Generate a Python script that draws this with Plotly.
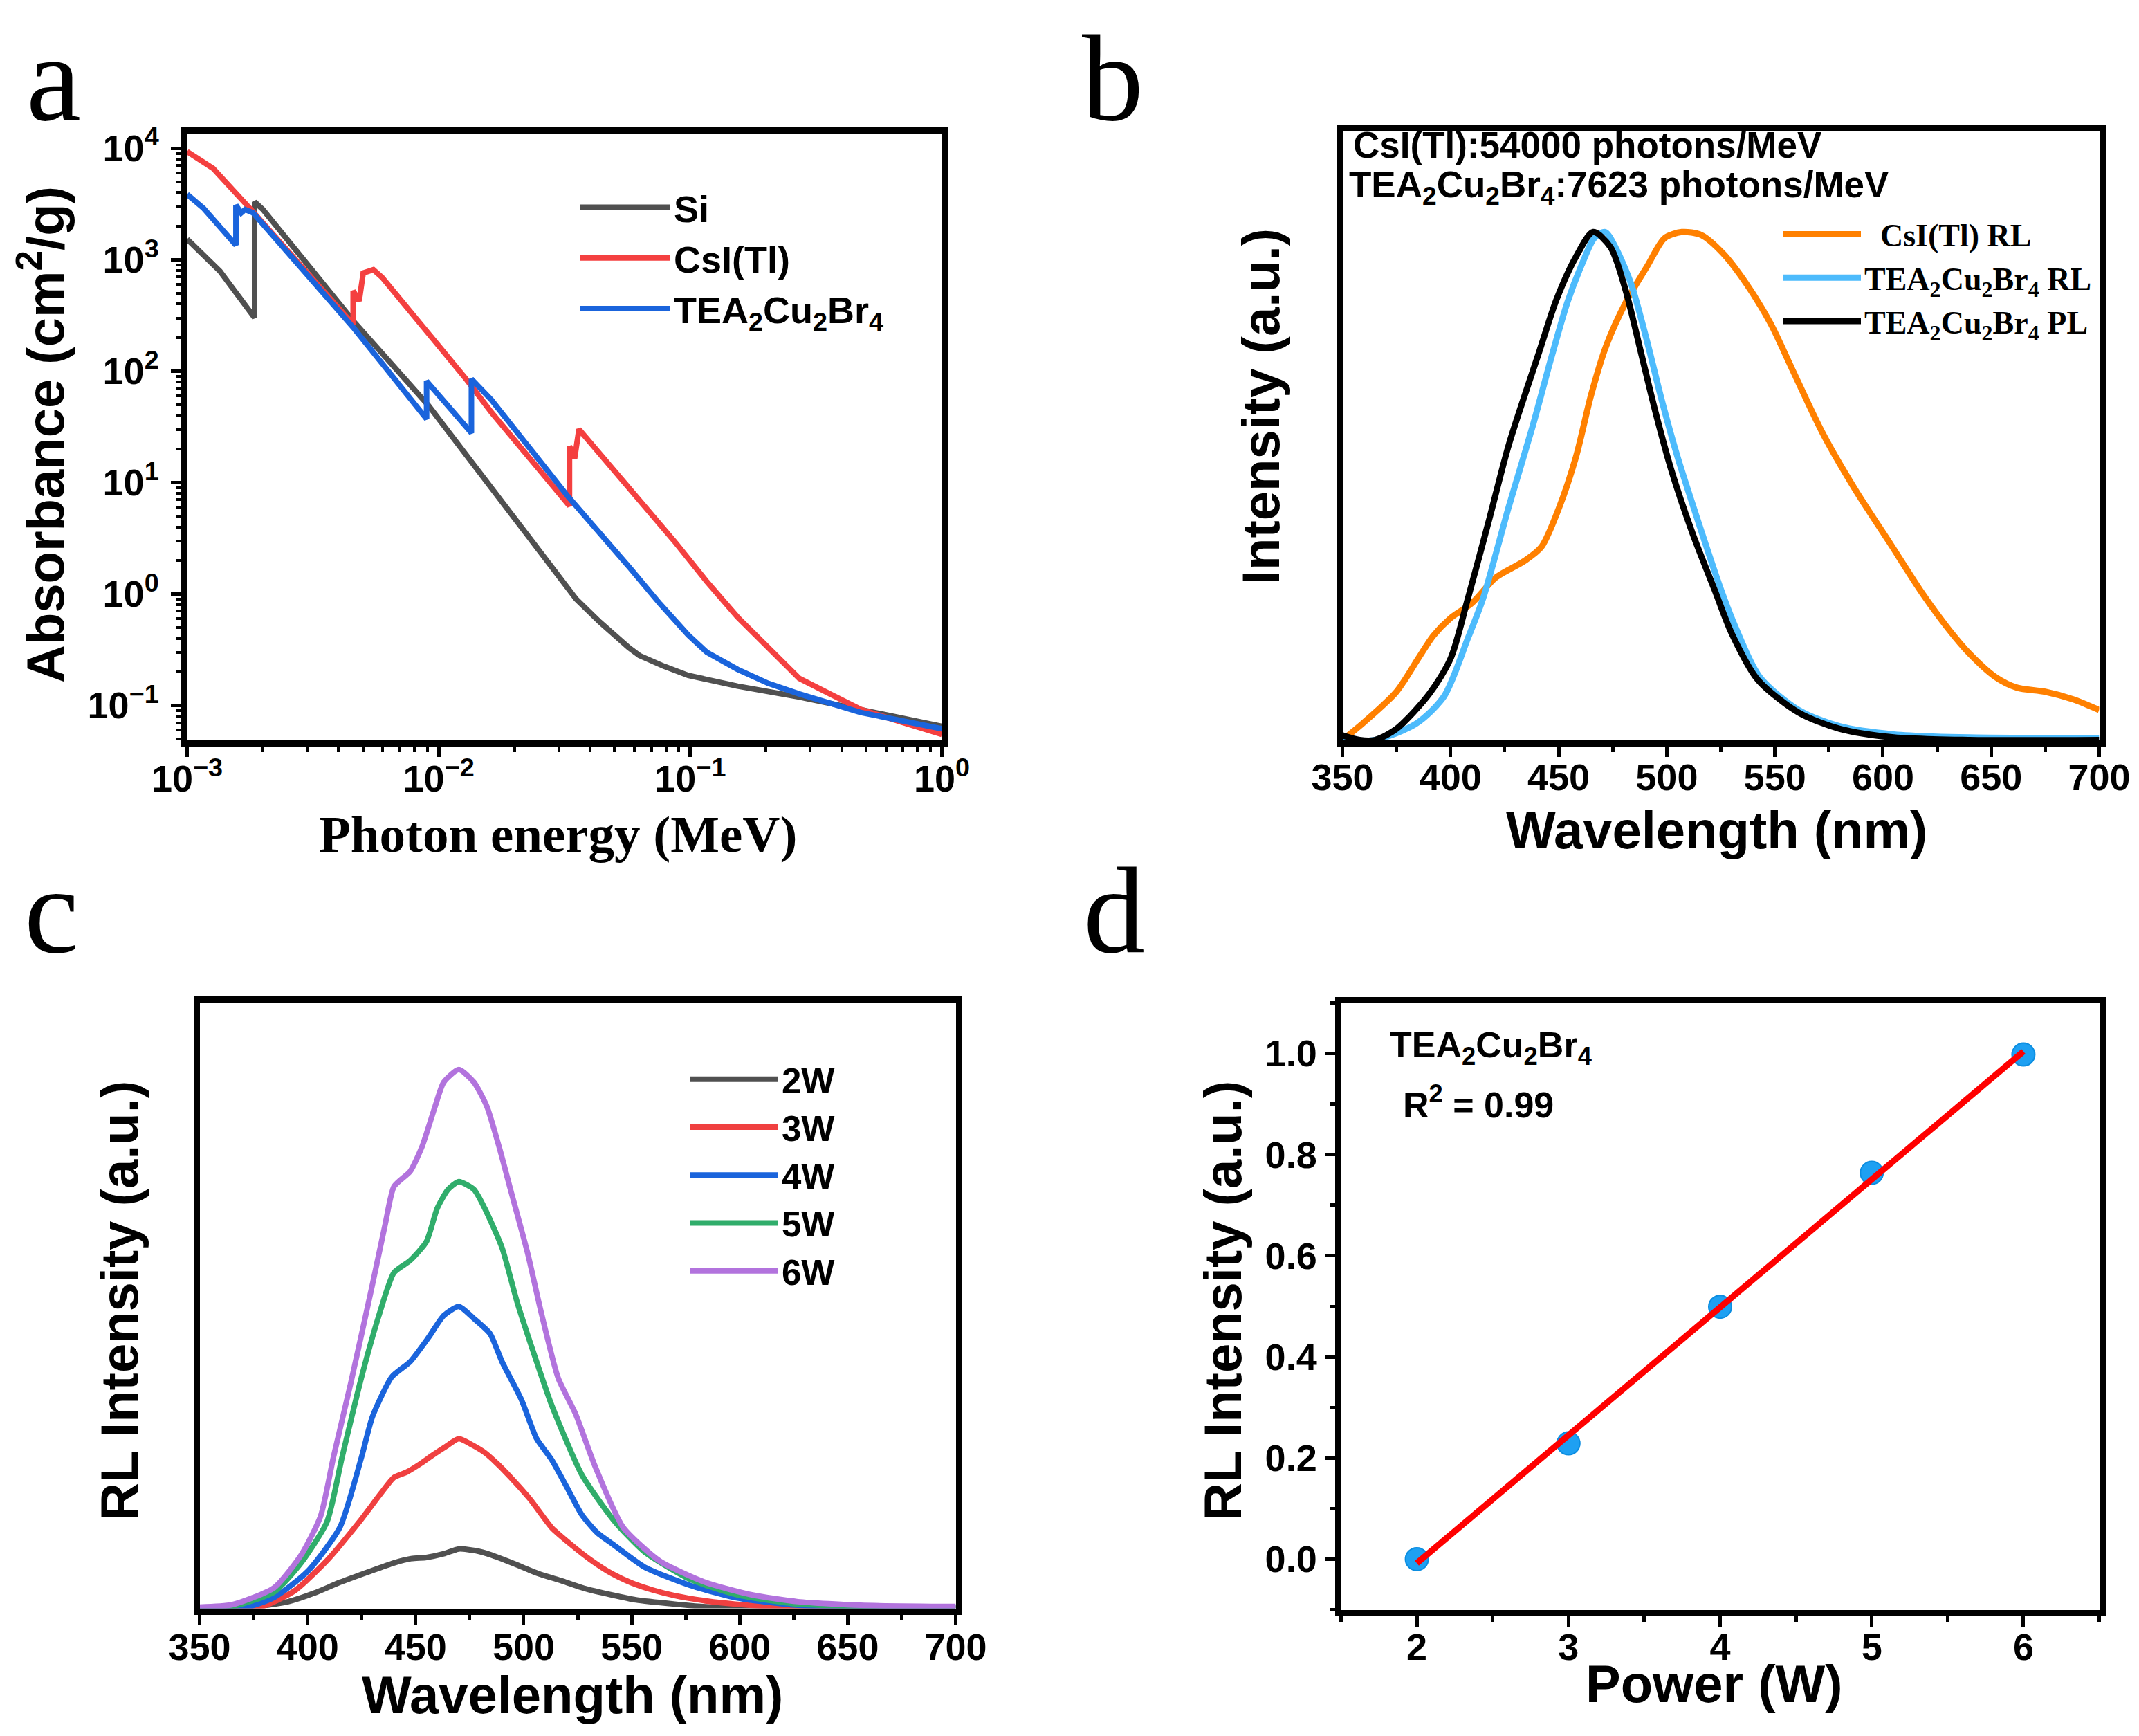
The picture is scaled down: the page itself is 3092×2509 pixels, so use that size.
import numpy as np
import plotly.graph_objects as go

W, H = 3092, 2509
SANS = "Liberation Sans"
SERIF = "Liberation Serif"
TEA = "TEA<sub>2</sub>Cu<sub>2</sub>Br<sub>4</sub>"

# ── panel a: absorbance vs photon energy (MeV) ────────────────────────────────
si_energy = [1.0e-3, 1.35e-3, 1.854e-3, 1.854e-3, 2.0e-3, 4.62e-3, 9.12e-3, 1.62e-2,
             2.84e-2, 3.52e-2, 4.37e-2, 5.0e-2, 5.7e-2, 6.27e-2, 7.05e-2, 7.85e-2,
             9.82e-2, 0.154, 0.271, 0.475, 1.0]
si_abs = [1530, 790, 302, 3300, 2820, 275, 49, 9.0,
          1.72, 0.90, 0.56, 0.425, 0.33, 0.281, 0.25, 0.225,
          0.186, 0.149, 0.119, 0.0925, 0.065]

csi_energy = [1.0e-3, 1.268e-3, 1.828e-3, 4.57e-3, 4.57e-3, 4.83e-3, 5.01e-3, 5.50e-3,
              5.96e-3, 1.274e-2, 1.62e-2, 3.31e-2, 3.31e-2, 3.47e-2, 3.61e-2, 8.77e-2,
              0.1164, 0.154, 0.204, 0.271, 0.359, 0.475, 0.692, 1.0]
csi_abs = [9330, 6600, 2690, 263, 525, 427, 759, 813,
           692, 87, 42.7, 6.17, 21.2, 16.5, 30.1, 2.86,
           1.29, 0.622, 0.331, 0.175, 0.127, 0.0925, 0.0708, 0.055]

tea_energy = [1.0e-3, 1.164e-3, 1.563e-3, 1.563e-3, 1.64e-3, 1.70e-3, 1.828e-3, 4.62e-3,
              8.95e-3, 8.95e-3, 1.349e-2, 1.349e-2, 1.62e-2, 3.28e-2, 5.75e-2, 7.59e-2,
              9.82e-2, 0.1164, 0.154, 0.204, 0.271, 0.475, 1.0]
tea_abs = [3855, 2880, 1350, 3090, 2630, 2820, 2630, 240,
           37.2, 81.3, 27.9, 85.1, 55.2, 7.41, 1.72, 0.813,
           0.427, 0.30, 0.211, 0.158, 0.127, 0.0867, 0.0617]

a_xticks = [1e-3, 1e-2, 1e-1, 1]
a_xticktext = ["10<sup>−3</sup>", "10<sup>−2</sup>", "10<sup>−1</sup>", "10<sup>0</sup>"]
a_yticks = [1e-1, 1, 10, 100, 1000, 10000]
a_yticktext = ["10<sup>−1</sup>", "10<sup>0</sup>", "10<sup>1</sup>", "10<sup>2</sup>",
               "10<sup>3</sup>", "10<sup>4</sup>"]

# ── panel b: normalised emission spectra ──────────────────────────────────────
csi_rl_wl = [350, 360, 375, 385, 392, 400, 410, 421, 434, 442, 450, 458, 465, 472,
             481, 491, 499, 507, 516, 526, 537, 548, 558, 572, 587, 603, 618, 630,
             640, 652, 662, 675, 688, 700]
csi_rl = [0.0, 0.035, 0.095, 0.16, 0.205, 0.24, 0.27, 0.32, 0.352, 0.38, 0.455, 0.557,
          0.679, 0.776, 0.861, 0.933, 0.988, 1.0, 0.994, 0.958, 0.897, 0.82, 0.73,
          0.605, 0.494, 0.389, 0.29, 0.22, 0.17, 0.124, 0.103, 0.095, 0.08, 0.059]

tea_rl_wl = [350, 365, 384, 397, 408, 415, 427, 438, 446.5, 454, 461, 466.5, 471.5,
             476.5, 483.6, 490.7, 497.8, 505, 515, 525, 532, 543, 561, 580, 605, 640, 700]
tea_rl = [0.0, 0.0, 0.032, 0.086, 0.2, 0.278, 0.46, 0.618, 0.751, 0.861, 0.939, 0.988,
          1.0, 0.968, 0.897, 0.788, 0.667, 0.557, 0.424, 0.297, 0.22, 0.124, 0.059,
          0.027, 0.011, 0.005, 0.004]

tea_pl_wl = [350, 358, 365, 375, 390, 400, 408, 418, 427, 441, 449, 458, 466, 474,
             481, 488, 495, 502, 512, 522, 530, 542, 561, 580, 605, 640, 700]
tea_pl = [0.009, 0.0, 0.0, 0.022, 0.09, 0.16, 0.278, 0.436, 0.582, 0.764, 0.867, 0.951,
          1.0, 0.970, 0.885, 0.764, 0.642, 0.533, 0.406, 0.297, 0.21, 0.119, 0.054,
          0.022, 0.005, 0.0, 0.0]

# ── panel c: RL spectra at different X-ray tube powers ────────────────────────
wl_2w = [350, 363, 378, 391, 403, 415, 428, 440, 448, 455, 463, 470, 478, 485, 496,
         507, 518, 528, 541, 552, 570, 583, 600, 630, 700]
rl_2w = [0.0, 0.0, 0.004, 0.011, 0.025, 0.043, 0.06, 0.075, 0.082, 0.084, 0.09, 0.098,
         0.095, 0.088, 0.073, 0.057, 0.045, 0.033, 0.022, 0.014, 0.007, 0.003, 0.001,
         0.0, 0.0]

wl_3w = [350, 378, 394, 409, 424, 434, 440, 446, 452, 458, 464, 470, 476, 482, 488,
         494, 503, 513, 522, 531, 541, 550, 560, 570, 585, 598, 620, 650, 700]
rl_3w = [0.0, 0.002, 0.029, 0.079, 0.143, 0.19, 0.216, 0.225, 0.238, 0.253, 0.267,
         0.28, 0.27, 0.257, 0.238, 0.216, 0.18, 0.133, 0.105, 0.08, 0.057, 0.042, 0.03,
         0.021, 0.012, 0.007, 0.002, 0.0, 0.0]

wl_4w = [350, 370, 384.5, 400, 415, 425, 430, 439, 447.5, 456, 463, 470, 477, 484.5,
         490, 499, 506, 513, 520, 527, 534, 542, 556, 577, 599, 627, 660, 700]
rl_4w = [0.0, 0.0, 0.018, 0.061, 0.134, 0.25, 0.316, 0.382, 0.407, 0.447, 0.483, 0.498,
         0.478, 0.453, 0.407, 0.344, 0.28, 0.245, 0.2, 0.154, 0.125, 0.104, 0.068,
         0.038, 0.017, 0.005, 0.002, 0.001]

wl_5w = [350, 365, 384.5, 397, 409, 416, 425, 433, 440, 447.5, 455, 460, 465, 470, 477,
         482, 490, 497, 506, 513, 527, 542, 556, 577, 599, 627, 660, 700]
rl_5w = [0.0, 0.003, 0.027, 0.075, 0.143, 0.25, 0.382, 0.483, 0.554, 0.574, 0.605, 0.66,
         0.691, 0.704, 0.691, 0.66, 0.595, 0.505, 0.407, 0.335, 0.22, 0.144, 0.093,
         0.048, 0.022, 0.007, 0.003, 0.002]

wl_6w = [350, 365, 384.5, 397, 406, 412, 420, 430, 436, 440, 447.5, 453, 459, 463, 470,
         477, 483, 489, 494, 502, 508, 516, 524, 533, 546, 563, 584, 606, 627, 656, 700]
rl_6w = [0.002, 0.006, 0.034, 0.088, 0.152, 0.25, 0.372, 0.534, 0.635, 0.696, 0.721,
         0.762, 0.828, 0.868, 0.889, 0.868, 0.828, 0.757, 0.69, 0.584, 0.49, 0.38, 0.321,
         0.235, 0.134, 0.078, 0.043, 0.022, 0.011, 0.005, 0.003]

# ── panel d: normalised RL intensity vs power ─────────────────────────────────
power_w = [2, 3, 4, 5, 6]
rl_norm = [0.0, 0.229, 0.499, 0.764, 0.998]
fit_power = [2, 6]
fit_rl = [-0.008, 1.004]


# ── layout helpers ────────────────────────────────────────────────────────────

LW = 9  # frame line width


def dom_x(left, right):
    # left/right are frame-line centres in pixels; plotly draws the line outside
    return [(left + LW / 2) / W, (right - LW / 2) / W]


def dom_y(top, bottom):
    return [1 - (bottom - LW / 2) / H, 1 - (top + LW / 2) / H]


def frame_axis(domain, anchor, **kw):
    ax = dict(
        domain=domain, anchor=anchor,
        showline=True, linewidth=LW, linecolor="black", mirror=True,
        ticks="outside", ticklen=15, tickwidth=5, tickcolor="black",
        showgrid=False, zeroline=False,
        tickfont=dict(family=SANS, size=54, color="black", weight="bold"),
    )
    ax.update(kw)
    return ax


def minor_lin(step):
    return dict(ticks="outside", ticklen=8, tickwidth=5, tickcolor="black",
                dtick=step, showgrid=False)


log_minor = [m * 10.0 ** k for k in range(-4, 5) for m in range(2, 10)]
minor_log = dict(ticks="outside", ticklen=8, tickwidth=4, tickcolor="black",
                 tickmode="array", tickvals=log_minor, showgrid=False)

fig = go.Figure()

# panel a
for name, xs, ys, col in [("Si", si_energy, si_abs, "#505050"),
                          ("CsI(Tl)", csi_energy, csi_abs, "#f44040"),
                          (TEA, tea_energy, tea_abs, "#1a64dc")]:
    fig.add_trace(go.Scatter(x=xs, y=ys, mode="lines", name=name,
                             line=dict(color=col, width=8),
                             xaxis="x", yaxis="y", legend="legend"))

# panel b
for name, xs, ys, col in [("  CsI(Tl) RL", csi_rl_wl, csi_rl, "#ff8000"),
                          (TEA + " RL", tea_rl_wl, tea_rl, "#4dbbfc"),
                          (TEA + " PL", tea_pl_wl, tea_pl, "#000000")]:
    fig.add_trace(go.Scatter(x=xs, y=ys, mode="lines", name=name,
                             line=dict(color=col, width=9, shape="spline", smoothing=0.8),
                             xaxis="x2", yaxis="y2", legend="legend2"))

# panel c
for name, xs, ys, col in [("2W", wl_2w, rl_2w, "#505050"),
                          ("3W", wl_3w, rl_3w, "#f04040"),
                          ("4W", wl_4w, rl_4w, "#1a64dc"),
                          ("5W", wl_5w, rl_5w, "#30ad6b"),
                          ("6W", wl_6w, rl_6w, "#b273dd")]:
    fig.add_trace(go.Scatter(x=xs, y=ys, mode="lines", name=name,
                             line=dict(color=col, width=8, shape="spline", smoothing=0.6),
                             xaxis="x3", yaxis="y3", legend="legend3"))

# panel d
fig.add_trace(go.Scatter(x=power_w, y=rl_norm, mode="markers", showlegend=False,
                         marker=dict(color="#1ea0f2", size=33,
                                     line=dict(color="#0b8de0", width=2)),
                         xaxis="x4", yaxis="y4"))
fig.add_trace(go.Scatter(x=fit_power, y=fit_rl, mode="lines", showlegend=False,
                         line=dict(color="#ff0000", width=9),
                         xaxis="x4", yaxis="y4"))

# ── annotations (panel letters, axis titles, in-plot texts) ───────────────────
ann = []


def note(text, x, y, size, family=SANS, weight="bold", angle=0,
         xanchor="center", yanchor="middle"):
    ann.append(dict(text=text, x=x / W, y=1 - y / H, xref="paper", yref="paper",
                    showarrow=False, textangle=angle, xanchor=xanchor, yanchor=yanchor,
                    font=dict(family=family, size=size, color="black", weight=weight)))


# panel letters: y is the top of the text box
for letter, x, y in [("a", 69, 4), ("b", 1600, 4), ("c", 66, 1207), ("d", 1602, 1207)]:
    note(letter, x, y, 178, family=SERIF, weight="normal", yanchor="top")

note("Photon energy (MeV)", 798, 1197, 75, family=SERIF)
note("Absorbance (cm<sup>2</sup>/g)", 52, 620, 76, angle=-90)
note("Wavelength (nm)", 2473, 1191, 76)
note("Intensity (a.u.)", 1814, 580, 76, angle=-90)
note("Wavelength (nm)", 820, 2441, 76)
note("RL Intensity (a.u.)", 164, 1872, 76, angle=-90)
note("Power (W)", 2470, 2425, 76)
note("RL Intensity (a.u.)", 1759, 1872, 76, angle=-90)

note("CsI(Tl):54000 photons/MeV", 1946, 201, 53, xanchor="left")
note(TEA + ":7623 photons/MeV", 1940, 262, 53, xanchor="left")
note(TEA, 1999, 1506, 52, xanchor="left")
note("R<sup>2</sup> = 0.99", 2018, 1585, 52, xanchor="left")

fig.update_layout(
    width=W, height=H,
    margin=dict(l=0, r=0, t=0, b=0, autoexpand=False),
    paper_bgcolor="white", plot_bgcolor="white",
    annotations=ann,
    xaxis=frame_axis(dom_x(258, 1358), "y", type="log", range=[-3, 0],
                     tickmode="array", tickvals=a_xticks, ticktext=a_xticktext,
                     minor=minor_log, ticklabelstandoff=-14),
    yaxis=frame_axis(dom_y(180, 1066), "x", type="log", range=[-1.31, 4.135],
                     tickmode="array", tickvals=a_yticks, ticktext=a_yticktext,
                     minor=minor_log, ticklabelstandoff=6),
    xaxis2=frame_axis(dom_x(1928, 3031), "y2", range=[350, 700], dtick=50,
                      minor=minor_lin(25), ticklabelstandoff=-16),
    yaxis2=frame_axis(dom_y(176, 1066), "x2", range=[0, 1.2], ticks="",
                      showticklabels=False),
    xaxis3=frame_axis(dom_x(276, 1378), "y3", range=[350, 700], dtick=50,
                      minor=minor_lin(25), ticklabelstandoff=-14),
    yaxis3=frame_axis(dom_y(1436, 2321), "x3", range=[0, 1.0], ticks="",
                      showticklabels=False),
    xaxis4=frame_axis(dom_x(1926, 3031), "y4", range=[1.5, 6.5], dtick=1,
                      minor=minor_lin(0.5), ticklabelstandoff=-16),
    yaxis4=frame_axis(dom_y(1437, 2323), "x4", range=[-0.1, 1.1], dtick=0.2,
                      tick0=0, tickformat=".1f", minor=minor_lin(0.1)),
    legend=dict(x=826 / W, y=1 - 250 / H, xanchor="left", yanchor="top",
                bgcolor="rgba(0,0,0,0)", itemwidth=130, tracegroupgap=0,
                font=dict(family=SANS, size=54, color="black", weight="bold")),
    legend2=dict(x=2565 / W, y=1 - 294 / H, xanchor="left", yanchor="top",
                 bgcolor="rgba(0,0,0,0)", itemwidth=112, tracegroupgap=0,
                 font=dict(family=SERIF, size=46, color="black", weight="bold")),
    legend3=dict(x=984 / W, y=1 - 1512 / H, xanchor="left", yanchor="top",
                 bgcolor="rgba(0,0,0,0)", itemwidth=128, tracegroupgap=0,
                 font=dict(family=SANS, size=51, color="black", weight="bold")),
)

fig.write_html("out.html")
